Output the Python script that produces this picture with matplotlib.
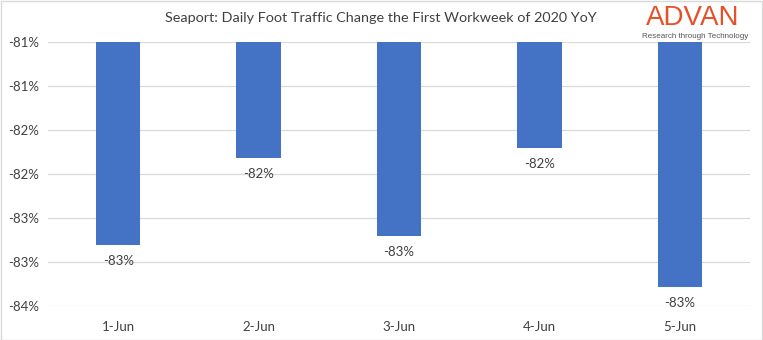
import math
import numpy as np
import matplotlib
matplotlib.use("Agg")
import matplotlib.pyplot as plt
from matplotlib.patches import Rectangle

# Daily change vs. the same days last year (%)
days = ["1-Jun", "2-Jun", "3-Jun", "4-Jun", "5-Jun"]
change = [-82.81, -81.82, -82.71, -81.71, -83.28]

# value axis range used by the chart
axis_top = -80.5
axis_bottom = -83.5
axis_step = 0.5

plt.rcParams["font.family"] = ["Lato", "DejaVu Sans"]
text_color = "#404040"
grid_color = "#d9d9d9"


def pct(v):
    # whole-percent label, halves rounded away from zero
    r = math.floor(abs(v) + 0.5)
    return f"{'-' if v < 0 else ''}{r}%"


fig = plt.figure(figsize=(7.63, 3.40), dpi=100)
ax = fig.add_axes([48 / 763, 1 - 306 / 340, 702 / 763, 264 / 340])

x = np.arange(len(days))
heights = [v - axis_top for v in change]
ax.bar(x, heights, bottom=axis_top, width=0.315, color="#4472C4", zorder=3)

for xi, v in zip(x, change):
    ax.annotate(pct(v), (xi, v), xytext=(0, -16), textcoords="offset pixels",
                ha="center", va="center", fontsize=9.5, color=text_color, zorder=4)

ticks = np.arange(axis_bottom, axis_top + axis_step / 2, axis_step)
ax.set_ylim(axis_bottom, axis_top)
ax.set_yticks(ticks)
ax.set_yticklabels([pct(t) for t in ticks])
ax.set_xlim(-0.5, len(days) - 0.5)
ax.set_xticks(x)
ax.set_xticklabels(days)

ax.tick_params(axis="both", length=0, colors=text_color, labelsize=9.5)
ax.tick_params(axis="x", pad=11)
# left-aligned value labels starting near the chart edge
ax.tick_params(axis="y", pad=29)
for t in ax.get_yticklabels():
    t.set_horizontalalignment("left")

ax.grid(axis="y", color=grid_color, linewidth=0.9, zorder=0)
for s in ax.spines.values():
    s.set_visible(False)

fig.text(381 / 763, 1 - 18 / 340, "Seaport: Daily Foot Traffic Change the First Workweek of 2020 YoY",
         ha="center", va="center", fontsize=10.4, color=text_color)

# brand mark in the top right corner
fig.text(693 / 763, 1 - 18 / 340, "ADVAN", ha="center", va="center",
         fontsize=20, color="#E5512B", family=["Liberation Sans", "DejaVu Sans"])
fig.text(695 / 763, 1 - 37 / 340, "Research through Technology", ha="center", va="center",
         fontsize=5.8, color="#555555", family=["Liberation Sans", "DejaVu Sans"])

fig.add_artist(Rectangle((0.5 / 763, 0.5 / 340), 1 - 1.5 / 763, 1 - 1.5 / 340,
                         transform=fig.transFigure, fill=False, edgecolor=grid_color, linewidth=1))

fig.savefig("out.png", dpi=100)
